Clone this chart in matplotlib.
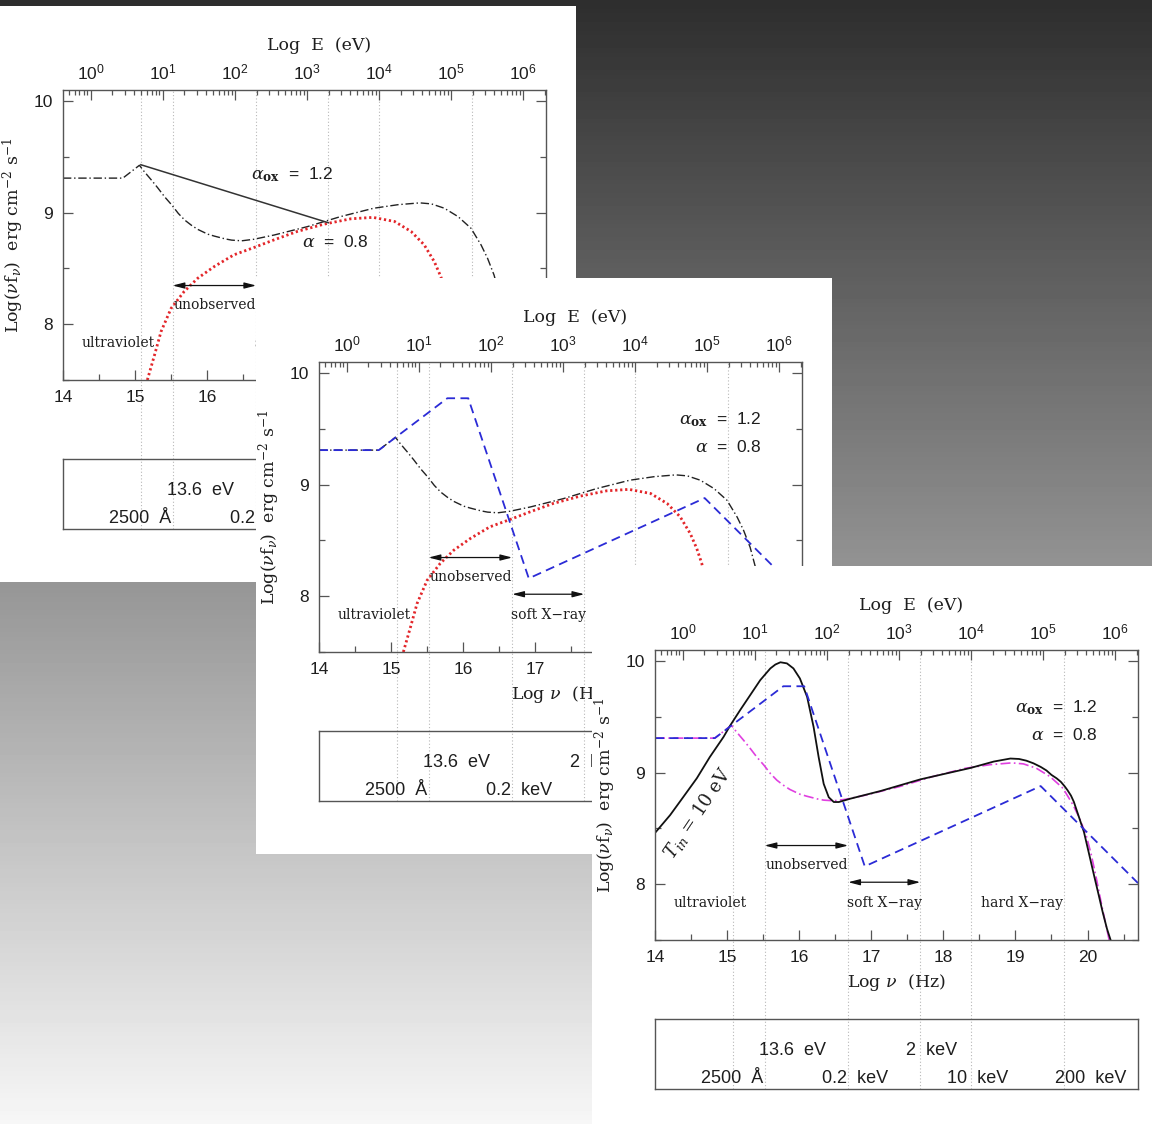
"""Three stacked SED panels: power-law + disk models in log(nu f_nu) vs log(nu)."""

from matplotlib import pyplot
from matplotlib.patches import Rectangle
from matplotlib.ticker import FixedLocator, LogLocator, MultipleLocator, NullFormatter
import numpy


# Empirical SED (dash-dot): UV bump joined to the alpha = 0.8 X-ray power law.
nu_sed = [14.00, 14.83, 15.06, 15.13, 15.23, 15.32, 15.41, 15.51, 15.60, 15.69,
          15.78, 15.87, 16.01, 16.10, 16.25, 16.34, 16.48, 16.65, 16.93, 17.39,
          17.85, 18.31, 18.65, 18.95, 19.11, 19.29, 19.48, 19.66, 19.80, 19.89,
          19.98, 20.05, 20.12, 20.20, 20.30]
lum_sed = [9.31, 9.31, 9.425, 9.366, 9.29, 9.218, 9.142, 9.068, 8.993, 8.933,
           8.888, 8.85, 8.807, 8.79, 8.765, 8.754, 8.748, 8.762, 8.80, 8.875,
           8.965, 9.04, 9.072, 9.088, 9.079, 9.04, 8.965, 8.86, 8.71, 8.59,
           8.44, 8.27, 8.06, 7.80, 7.50]

# Pure power law with low-energy turnover (red dotted).
nu_pl = [15.17, 15.27, 15.36, 15.50, 15.68, 15.87, 16.10, 16.37, 16.65, 16.93,
         17.25, 17.62, 17.99, 18.30, 18.60, 18.83, 19.01, 19.15, 19.24, 19.31,
         19.37]
lum_pl = [7.50, 7.725, 7.934, 8.143, 8.293, 8.413, 8.518, 8.622, 8.688, 8.757,
          8.832, 8.897, 8.945, 8.958, 8.921, 8.831, 8.712, 8.562, 8.428, 8.293,
          8.12]

# Broken power-law model (blue dashed).
nu_broken = [14.00, 14.83, 15.78, 16.07, 16.91, 19.35, 20.70]
lum_broken = [9.31, 9.31, 9.775, 9.775, 8.16, 8.88, 8.01]

# Disk blackbody with T_in = 10 eV plus power law (black solid).
nu_disk = [14.00, 14.21, 14.39, 14.58, 14.76, 14.95, 15.04, 15.18, 15.32, 15.46,
           15.60, 15.67, 15.74, 15.83, 15.92, 16.01, 16.11, 16.20, 16.27, 16.34,
           16.41, 16.48, 16.55, 16.71, 16.85, 17.13, 17.68, 18.38, 18.70, 18.93,
           19.05, 19.15, 19.25, 19.35, 19.43, 19.50, 19.57, 19.63, 19.68, 19.72,
           19.77, 19.81, 19.88, 19.95, 20.02, 20.09, 20.15, 20.21, 20.27, 20.32]
lum_disk = [8.46, 8.62, 8.78, 8.95, 9.14, 9.32, 9.42, 9.56, 9.695, 9.83,
            9.935, 9.97, 9.99, 9.98, 9.935, 9.845, 9.68, 9.41, 9.14, 8.90,
            8.78, 8.737, 8.737, 8.767, 8.79, 8.836, 8.94, 9.043, 9.10, 9.127,
            9.123, 9.108, 9.084, 9.052, 9.02, 8.98, 8.95, 8.918, 8.88, 8.845,
            8.795, 8.739, 8.604, 8.469, 8.275, 8.08, 7.916, 7.75, 7.60, 7.50]

# alpha_ox segment between 2500 A and 2 keV.
nu_aox = [15.08, 17.68]
lum_aox = [9.43, 8.91]

# Reference frequencies (dotted guides) and their labels in the lower box.
nu_marks = [15.08, 15.52, 16.68, 17.68, 18.38, 19.68]
box_upper = ['13.6  eV', '2  keV']
box_upper_nu = [15.91, 17.83]
box_lower = ['2500  Å', '0.2  keV', '10  keV', '200  keV']
box_lower_nu = [15.07, 16.77, 18.47, 20.04]

# Band labels.
band_names = ['ultraviolet', 'unobserved', 'soft X\u2212ray', 'hard X\u2212ray']
band_nu = [14.77, 16.10, 17.19, 19.09]
band_lum = [7.835, 8.17, 7.835, 7.835]

pyplot.rcParams['mathtext.fontset'] = 'custom'
pyplot.rcParams['mathtext.rm'] = 'DejaVu Serif'
pyplot.rcParams['mathtext.it'] = 'DejaVu Serif:italic'
pyplot.rcParams['mathtext.bf'] = 'DejaVu Serif:bold'
pyplot.rcParams['mathtext.sf'] = 'Liberation Sans'

W, H = 1152, 1124
PANEL_W, PANEL_H = 576, 576
AX_LEFT, AX_TOP, AX_W, AX_H = 63, 84, 483, 290
BOX_TOP, BOX_H = 453, 70
XLIM = (14.0, 20.7)
YLIM = (7.5, 10.1)
LOG_HZ_PER_EV = 14.3834
SERIF = 'DejaVu Serif'
SANS = ['Liberation Sans', 'DejaVu Sans']
FRAME = '#555555'
INK = '#1e1e1e'

fig = pyplot.figure(figsize=(W / 100, H / 100), dpi=100)


def frac_rect(x, y, w, h):
    """Pixel box (from top-left) to figure fraction."""
    return [x / W, 1 - (y + h) / H, w / W, h / H]


# Grey gradient backdrop.
bg = fig.add_axes([0, 0, 1, 1], zorder=0)
bg.imshow(numpy.linspace(0.18, 0.965, 256)[:, None], cmap='gray',
          vmin=0, vmax=1, aspect='auto', extent=(0, 1, 0, 1))
bg.set_axis_off()


def draw_panel(px, py, z, panel):
    card = Rectangle((px / W, 1 - (py + PANEL_H) / H), PANEL_W / W, PANEL_H / H,
                     transform=fig.transFigure, facecolor='white',
                     edgecolor='none', zorder=z)
    fig.add_artist(card)

    ax = fig.add_axes(frac_rect(px + AX_LEFT, py + AX_TOP, AX_W, AX_H),
                      zorder=z + 1)
    ax.set_facecolor('none')
    ax.set_xlim(*XLIM)
    ax.set_ylim(*YLIM)
    ax.xaxis.set_major_locator(FixedLocator(range(14, 21)))
    ax.xaxis.set_minor_locator(MultipleLocator(0.5))
    ax.yaxis.set_major_locator(FixedLocator([8, 9, 10]))
    ax.yaxis.set_minor_locator(MultipleLocator(0.5))
    ax.tick_params(which='both', direction='in', top=False, right=True,
                   color=FRAME, width=0.9, labelsize=12.5,
                   labelfontfamily='Liberation Sans', labelcolor=INK)
    ax.tick_params(which='major', length=7.5, pad=7)
    ax.tick_params(which='minor', length=4.5)
    for spine in ax.spines.values():
        spine.set_color(FRAME)
        spine.set_linewidth(1.0)

    # Upper axis in photon energy.
    top = ax.twiny()
    top.set_zorder(z + 2)
    top.set_xscale('log')
    top.set_xlim(10 ** (XLIM[0] - LOG_HZ_PER_EV), 10 ** (XLIM[1] - LOG_HZ_PER_EV))
    top.xaxis.set_major_locator(FixedLocator([10.0 ** k for k in range(7)]))
    top.set_xticklabels([r'$\mathsf{10^{%d}}$' % k for k in range(7)])
    top.xaxis.set_minor_locator(LogLocator(base=10, subs=range(2, 10), numticks=50))
    top.xaxis.set_minor_formatter(NullFormatter())
    top.tick_params(axis='x', which='both', direction='in', color=FRAME,
                    width=0.9, labelsize=12.5, pad=5, labelcolor=INK)
    top.tick_params(axis='x', which='major', length=7)
    top.tick_params(axis='x', which='minor', length=3.5)
    for spine in top.spines.values():
        spine.set_visible(False)

    ax.text(0.53, 1.152, 'Log  E  (eV)', transform=ax.transAxes,
            ha='center', va='center', fontsize=12.5, family=SERIF, color=INK)
    ax.text(0.5, -0.148, r'Log $\nu$  (Hz)', transform=ax.transAxes,
            ha='center', va='center', fontsize=12.5, family=SERIF, color=INK)
    ax.text(-0.1035, 0.5, r'Log($\nu$f$_\nu$)  erg cm$^{-2}$ s$^{-1}$',
            transform=ax.transAxes, rotation=90, ha='center', va='center',
            fontsize=12.5, family=SERIF, color=INK)

    # Dotted guides run from the plot down through the label box.
    guide_bottom = -(BOX_TOP + BOX_H - AX_TOP - AX_H) / AX_H
    for xv in nu_marks:
        ax.plot([xv, xv], [guide_bottom, 1], transform=ax.get_xaxis_transform(),
                clip_on=False, color='#b8b8b8', lw=0.8, ls=(0, (1, 2)),
                zorder=0.5)

    # Band arrows and names.
    arrow = dict(arrowstyle='<|-|>,head_length=0.7,head_width=0.18',
                 color='#111111', lw=0.9, shrinkA=0, shrinkB=0)
    ax.annotate('', xy=(nu_marks[2], 8.347), xytext=(nu_marks[1], 8.347),
                arrowprops=arrow)
    ax.annotate('', xy=(nu_marks[3], 8.018), xytext=(nu_marks[2], 8.018),
                arrowprops=arrow)
    for name, xv, yv in zip(band_names, band_nu, band_lum):
        ax.text(xv, yv, name, ha='center', va='center', fontsize=10,
                family=SERIF, color=INK)

    if panel == 1:
        ax.plot(nu_sed, lum_sed, color='#222222', lw=1.0, ls=(0, (6, 2, 1, 2)))
        ax.plot(nu_pl, lum_pl, color='#e3262a', lw=2.0, ls=(0, (0.8, 1.0)))
        ax.plot(nu_aox, lum_aox, color='#333333', lw=1.1)
        ax.text(17.75, 9.34, r'$\alpha_{\bf ox}$  =  1.2', ha='right', va='center',
                fontsize=12.5, family=SANS, color=INK)
        ax.text(18.24, 8.74, r'$\alpha$  =  0.8', ha='right', va='center',
                fontsize=12.5, family=SANS, color=INK)
    else:
        if panel == 2:
            ax.plot(nu_sed, lum_sed, color='#222222', lw=1.0, ls=(0, (6, 2, 1, 2)))
            ax.plot(nu_pl, lum_pl, color='#e3262a', lw=2.0, ls=(0, (0.8, 1.0)))
        else:
            ax.plot(nu_sed, lum_sed, color='#e040e0', lw=1.2, ls=(0, (6, 2, 1, 2)))
            ax.plot(nu_disk, lum_disk, color='#111111', lw=1.3)
            ax.text(14.60, 8.634, r'$T_{in}$ = 10 eV', rotation=56,
                    rotation_mode='anchor', ha='center', va='center',
                    fontsize=13, family=SERIF, color=INK)
        ax.plot(nu_broken, lum_broken, color='#2b2bd6', lw=1.3, ls=(0, (5, 3)))
        ax.text(20.14, 9.58, r'$\alpha_{\bf ox}$  =  1.2', ha='right', va='center',
                fontsize=12.5, family=SANS, color=INK)
        ax.text(20.14, 9.34, r'$\alpha$  =  0.8', ha='right', va='center',
                fontsize=12.5, family=SANS, color=INK)

    # Label box for the reference frequencies.
    box = fig.add_axes(frac_rect(px + AX_LEFT, py + BOX_TOP, AX_W, BOX_H),
                       zorder=z + 1)
    box.set_facecolor('none')
    box.set_xlim(*XLIM)
    box.set_ylim(0, 1)
    box.set_xticks([])
    box.set_yticks([])
    for spine in box.spines.values():
        spine.set_color(FRAME)
        spine.set_linewidth(1.0)
    for s, xv in zip(box_upper, box_upper_nu):
        box.text(xv, 0.486, s, ha='center', va='baseline', fontsize=13,
                 family=SANS, color=INK)
    for s, xv in zip(box_lower, box_lower_nu):
        box.text(xv, 0.083, s, ha='center', va='baseline', fontsize=13,
                 family=SANS, color=INK)


draw_panel(0, 6, 10, 1)
draw_panel(256, 278, 20, 2)
draw_panel(592, 566, 30, 3)

fig.savefig('out.png', dpi=100)
